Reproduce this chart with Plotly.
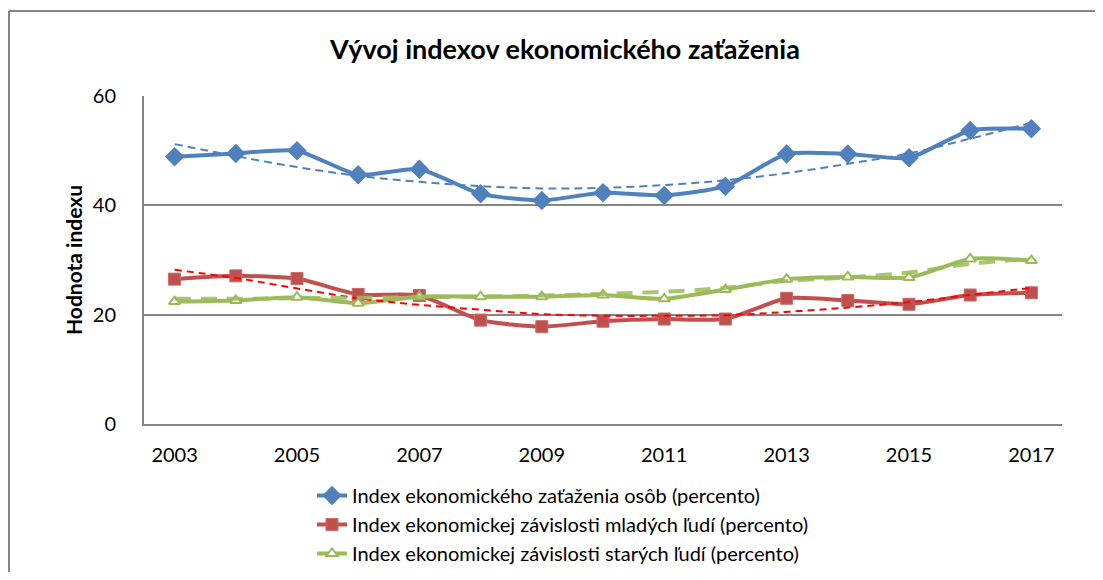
import plotly.graph_objects as go

years = list(range(2003, 2018))
tick_years = [2003, 2005, 2007, 2009, 2011, 2013, 2015, 2017]
y_ticks = [0, 20, 40, 60]

total_index = [48.9, 49.5, 50.0, 45.6, 46.6, 42.1, 40.9, 42.3, 41.8, 43.5, 49.4, 49.4, 48.7, 53.7, 54.0]
young_index = [26.5, 27.1, 26.6, 23.7, 23.5, 19.0, 17.8, 18.8, 19.2, 19.2, 23.0, 22.6, 21.9, 23.6, 24.0]
old_index = [22.4, 22.6, 23.2, 22.1, 23.3, 23.3, 23.3, 23.6, 22.9, 24.6, 26.5, 26.9, 26.8, 30.2, 29.9]

# trendlines
total_trend = [51.2, 49.0, 47.0, 45.4, 44.3, 43.5, 43.1, 43.2, 43.7, 44.6, 45.9, 47.6, 49.5, 52.2, 55.1]
young_trend = [28.2, 26.7, 24.8, 23.0, 21.8, 20.9, 20.1, 19.8, 19.8, 19.9, 20.5, 21.3, 22.3, 23.6, 24.9]
old_trend = [22.9, 22.9, 23.0, 23.1, 23.2, 23.3, 23.5, 23.8, 24.2, 24.9, 26.2, 26.8, 27.7, 29.3, 30.2]

names = [
    "Index ekonomického zaťaženia osôb (percento)",
    "Index ekonomickej závislosti mladých ľudí (percento)",
    "Index ekonomickej závislosti starých ľudí (percento)",
]

BLUE = "#4F81BD"
RED = "#C0504D"
GREEN = "#9BBB59"
FONT = "Lato"

W, H = 1087, 564
L, R, T, B = 136, 33, 88, 148
PW = W - L - R
PH = H - T - B

fig = go.Figure()

fig.add_trace(go.Scatter(
    x=years, y=total_index, name=names[0], mode="lines+markers",
    line=dict(color=BLUE, width=4, shape="spline", smoothing=0.6),
    marker=dict(symbol="diamond", size=15, color=BLUE),
))
fig.add_trace(go.Scatter(
    x=years, y=young_index, name=names[1], mode="lines+markers",
    line=dict(color=RED, width=4, shape="spline", smoothing=0.6),
    marker=dict(symbol="square", size=12, color=RED, line=dict(color="#C96A67", width=1)),
))
fig.add_trace(go.Scatter(
    x=years, y=old_index, name=names[2], mode="lines+markers",
    line=dict(color=GREEN, width=4, shape="spline", smoothing=0.6),
    marker=dict(symbol="triangle-up", size=10, color="white", line=dict(color=GREEN, width=2)),
))

fig.add_trace(go.Scatter(
    x=years, y=total_trend, mode="lines", showlegend=False, hoverinfo="skip",
    line=dict(color=BLUE, width=2, dash="8px,5px", shape="spline"),
))
fig.add_trace(go.Scatter(
    x=years, y=young_trend, mode="lines", showlegend=False, hoverinfo="skip",
    line=dict(color="#FF0000", width=2, dash="7px,5px", shape="spline"),
))
fig.add_trace(go.Scatter(
    x=years, y=old_trend, mode="lines", showlegend=False, hoverinfo="skip",
    line=dict(color="rgba(155,187,89,0.85)", width=4, dash="16px,10px", shape="spline"),
))

fig.update_layout(
    width=W, height=H,
    margin=dict(l=L, r=R, t=T, b=B, autoexpand=False),
    paper_bgcolor="white", plot_bgcolor="white",
    font=dict(family=FONT, size=20, color="black"),
    title=dict(
        text="<b>Vývoj indexov ekonomického zaťaženia</b>",
        x=557 / W, xanchor="center", xref="container",
        y=1 - 42 / H, yanchor="middle", yref="container",
        font=dict(family=FONT, size=27, color="black"),
    ),
    showlegend=True,
    legend=dict(
        x=(304 - L) / PW, xanchor="left",
        y=(PH + T - 468) / PH, yanchor="top",
        font=dict(family=FONT, size=20, color="black"),
        tracegroupgap=0,
        bgcolor="rgba(0,0,0,0)",
    ),
    xaxis=dict(
        range=[2002.5, 2017.5],
        tickmode="array", tickvals=tick_years, ticktext=[str(t) for t in tick_years],
        showgrid=False, zeroline=False, automargin=False,
        showline=True, linecolor="#868686", linewidth=2,
        ticks="", ticklabelstandoff=12,
        tickfont=dict(family=FONT, size=20),
    ),
    yaxis=dict(
        range=[0, 60],
        tickmode="array", tickvals=y_ticks,
        showgrid=True, gridcolor="#868686", gridwidth=2,
        zeroline=False, automargin=False,
        showline=True, linecolor="#868686", linewidth=2,
        ticks="", ticklabelstandoff=22,
        tickfont=dict(family=FONT, size=20),
        title=dict(text="<b>Hodnota indexu</b>", font=dict(family=FONT, size=21), standoff=4),
    ),
    shapes=[
        dict(type="line", xref="paper", yref="paper",
             x0=(1 - L) / PW, x1=(1 - L) / PW,
             y0=(PH + T - 600) / PH, y1=(PH + T - 3) / PH,
             line=dict(color="#868686", width=2)),
        dict(type="line", xref="paper", yref="paper",
             x0=(1 - L) / PW, x1=(1110 - L) / PW,
             y0=(PH + T - 3) / PH, y1=(PH + T - 3) / PH,
             line=dict(color="#868686", width=2)),
    ],
)

fig.write_html("out.html")
